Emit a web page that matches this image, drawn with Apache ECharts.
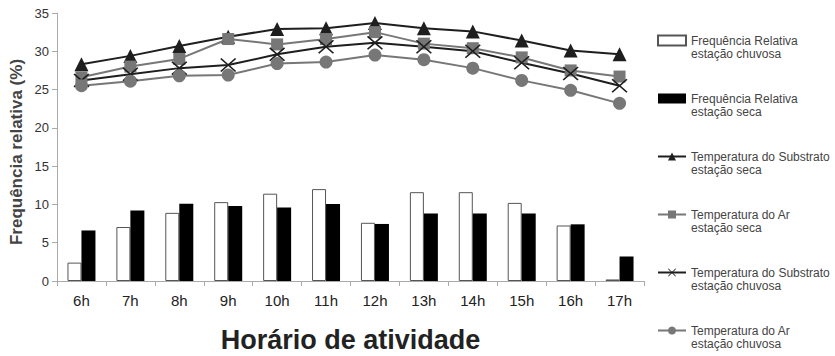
<!DOCTYPE html>
<html>
<head>
<meta charset="utf-8">
<script src="https://cdn.jsdelivr.net/npm/echarts@6/dist/echarts.min.js"></script>
<style>
  html, body { margin: 0; padding: 0; background: #fff; }
  #chart { width: 835px; height: 356px; }
</style>
</head>
<body>
<div id="chart"></div>
<script>
// dados
const horas = ['6h', '7h', '8h', '9h', '10h', '11h', '12h', '13h', '14h', '15h', '16h', '17h']
const freqChuvosa = [2.4, 7.05, 8.9, 10.3, 11.4, 12.0, 7.6, 11.6, 11.6, 10.2, 7.25, 0.2]
const freqSeca = [6.6, 9.2, 10.1, 9.8, 9.6, 10.05, 7.45, 8.8, 8.8, 8.8, 7.4, 3.2]
const tSubstratoSeca = [28.3, 29.4, 30.7, 31.9, 32.9, 33.0, 33.7, 33.0, 32.6, 31.4, 30.1, 29.6]
const tArSeca = [26.6, 28.0, 29.0, 31.6, 30.9, 31.6, 32.5, 31.0, 30.4, 29.2, 27.5, 26.7]
const tSubstratoChuvosa = [26.2, 27.0, 27.8, 28.2, 29.6, 30.6, 31.1, 30.6, 30.0, 28.5, 27.1, 25.5]
const tArChuvosa = [25.5, 26.1, 26.8, 26.9, 28.4, 28.6, 29.5, 28.9, 27.8, 26.2, 24.9, 23.2]
const yTicks = { min: 0, max: 35, interval: 5 }

const FONT = 'Liberation Sans'
const xSymbol = 'path://M0,1.5L1.5,0L10,8.5L18.5,0L20,1.5L11.5,10L20,18.5L18.5,20L10,11.5L1.5,20L0,18.5L8.5,10Z'

const nomes = [
  'Frequência Relativa\nestação chuvosa',
  'Frequência Relativa\nestação seca',
  'Temperatura do Substrato\nestação seca',
  'Temperatura do Ar\nestação seca',
  'Temperatura do Substrato\nestação chuvosa',
  'Temperatura do Ar\nestação chuvosa'
]

const linha = (name, data, color, symbol, size) => ({
  name,
  type: 'line',
  data,
  z: 5,
  symbol,
  symbolSize: size,
  showSymbol: true,
  lineStyle: { color, width: 2 },
  itemStyle: { color },
  emphasis: { disabled: true }
})

const chart = echarts.init(document.getElementById('chart'), null, { renderer: 'svg' })
chart.setOption({
  backgroundColor: '#fff',
  animation: false,
  textStyle: { fontFamily: FONT },
  grid: { left: 57, right: 191, top: 13, bottom: 75, outerBoundsMode: 'none' },
  legend: {
    orient: 'vertical',
    left: 657,
    top: 21,
    padding: 0,
    itemWidth: 28,
    itemHeight: 10,
    itemGap: 19,
    data: nomes.map((n, i) => (i < 2 ? { name: n, icon: 'rect' } : { name: n })),
    // linha vazia em cima para o ícone ficar alinhado com a primeira linha
    formatter: (n) => ' \n' + n,
    textStyle: {
      fontFamily: FONT,
      fontSize: 12,
      color: '#444',
      lineHeight: 13
    }
  },
  xAxis: {
    type: 'category',
    data: horas,
    name: 'Horário de atividade',
    nameLocation: 'middle',
    nameGap: 45,
    nameMoveOverlap: false,
    nameTextStyle: { fontFamily: FONT, fontSize: 27, fontWeight: 'bold', color: '#222' },
    axisLine: { lineStyle: { color: '#aaa' } },
    axisTick: { show: true, alignWithLabel: false, length: 5, lineStyle: { color: '#aaa' } },
    axisLabel: { fontFamily: FONT, fontSize: 15, color: '#222', margin: 12 }
  },
  yAxis: {
    type: 'value',
    min: yTicks.min,
    max: yTicks.max,
    interval: yTicks.interval,
    name: 'Frequência relativa (%)',
    nameLocation: 'middle',
    nameGap: 32,
    nameMoveOverlap: false,
    nameRotate: 90,
    nameTextStyle: {
      fontFamily: FONT,
      fontSize: 17,
      fontWeight: 'bold',
      color: '#444',
      padding: [0, 10, 0, 0]
    },
    axisLine: { show: true, lineStyle: { color: '#aaa' } },
    axisTick: { show: true, length: 5, lineStyle: { color: '#aaa' } },
    splitLine: { show: false },
    axisLabel: { fontFamily: FONT, fontSize: 13, color: '#333', margin: 8 }
  },
  series: [
    {
      name: nomes[0],
      type: 'bar',
      data: freqChuvosa,
      barWidth: 14,
      barGap: '0%',
      itemStyle: { color: '#fff', borderColor: '#555', borderWidth: 1 },
      emphasis: { disabled: true }
    },
    {
      name: nomes[1],
      type: 'bar',
      data: freqSeca,
      barWidth: 14,
      barGap: '0%',
      itemStyle: { color: '#000' },
      emphasis: { disabled: true }
    },
    linha(nomes[2], tSubstratoSeca, '#1e1e1e', 'triangle', 14),
    linha(nomes[3], tArSeca, '#777', 'rect', 12),
    linha(nomes[4], tSubstratoChuvosa, '#1e1e1e', xSymbol, [16, 14]),
    linha(nomes[5], tArChuvosa, '#777', 'circle', 13)
  ]
})
</script>
</body>
</html>
